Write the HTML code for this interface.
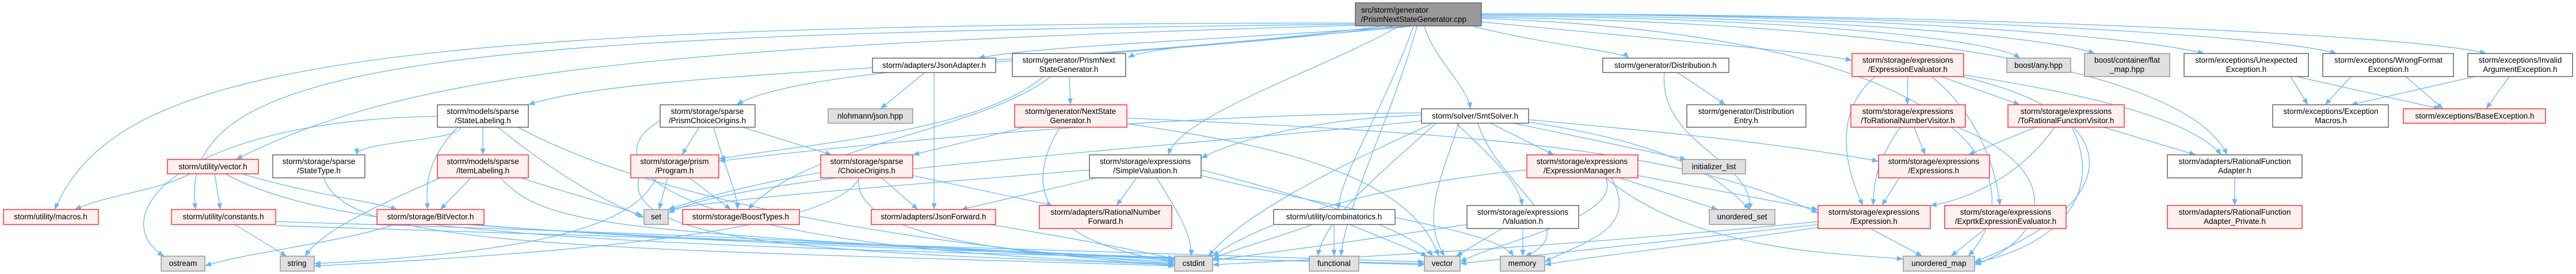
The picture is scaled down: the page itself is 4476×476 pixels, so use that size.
<!DOCTYPE html>
<html><head><meta charset="utf-8"><style>
html,body{margin:0;padding:0;background:#fff;}
svg{display:block;}
text{font-family:"Liberation Sans",sans-serif;font-size:13.5px;fill:#000;}
.e{fill:none;stroke:#63b8ff;stroke-width:1.3;marker-end:url(#a);}
.w{fill:#fff;stroke:#666;stroke-width:1.5;}
.r{fill:#fff0f0;stroke:#f33;stroke-width:1.5;}
.g{fill:#e0e0e0;stroke:#999;stroke-width:1.5;}
.k{fill:#999;stroke:#666;stroke-width:1.5;}
</style></head><body>
<svg width="4476" height="476" viewBox="0 0 4476 476" xmlns="http://www.w3.org/2000/svg">
<defs><marker id="a" markerUnits="userSpaceOnUse" markerWidth="11" markerHeight="9" refX="11" refY="4.5" orient="auto"><path d="M0,0 L11,4.5 L0,9 z" fill="#63b8ff"/></marker></defs>
<g>
<path class="e" d="M2355 40 C600 40 200 120 95 364"/>
<path class="e" d="M2355 42 C800 60 300 100 340 364"/>
<path class="e" d="M2355 44 C1100 80 700 130 410 277"/>
<path class="e" d="M2400 46 C1800 120 1100 120 918 182"/>
<path class="e" d="M2420 46 C2000 100 1400 110 1280 182"/>
<path class="e" d="M2440 46 C2100 70 1800 80 1700 101"/>
<path class="e" d="M2450 46 C2200 70 2000 80 1960 100"/>
<path class="e" d="M2430 46 C2300 120 2050 200 2030 269"/>
<path class="e" d="M2456 46 C2400 200 2330 300 2325 364"/>
<path class="e" d="M2462 46 C2420 200 2340 350 2330 445"/>
<path class="e" d="M2475 46 C2490 100 2550 150 2555 189"/>
<path class="e" d="M2560 46 C2700 80 2820 90 2830 101"/>
<path class="e" d="M2574 38 C2900 70 3150 90 3218 105"/>
<path class="e" d="M2574 28 C3000 28 3450 60 3510 101"/>
<path class="e" d="M2574 26 C3100 26 3550 60 3640 93"/>
<path class="e" d="M2574 24 C3200 24 3700 60 3830 93"/>
<path class="e" d="M2574 24 C3300 24 3950 60 4060 93"/>
<path class="e" d="M2574 24 C3400 24 4200 60 4320 93"/>
<path class="e" d="M2574 30 C3300 40 3800 120 3870 269"/>
<path class="e" d="M2574 32 C3400 60 3550 300 3420 445"/>
<path class="e" d="M800 221 C800 245 620 245 620 269"/>
<path class="e" d="M839 221 L839 269"/>
<path class="e" d="M795 221 C740 280 740 320 743 364"/>
<path class="e" d="M760 202 C300 210 180 380 285 445"/>
<path class="e" d="M865 221 C1000 330 1080 360 1119 378"/>
<path class="e" d="M900 221 C1100 330 1500 420 2041 458"/>
<path class="e" d="M330 302 C280 330 180 340 130 364"/>
<path class="e" d="M373 302 L383 364"/>
<path class="e" d="M420 302 C550 340 650 350 690 364"/>
<path class="e" d="M392 302 C600 420 1200 430 2475 458"/>
<path class="e" d="M563 309 C600 430 1000 430 2041 462"/>
<path class="e" d="M765 309 C650 360 560 400 530 445"/>
<path class="e" d="M818 309 L765 364"/>
<path class="e" d="M905 309 C1000 340 1080 360 1115 375"/>
<path class="e" d="M870 309 C950 400 1100 400 2041 455"/>
<path class="e" d="M408 390 L498 445"/>
<path class="e" d="M479 385 C1000 400 1500 420 2041 452"/>
<path class="e" d="M479 392 C1200 420 1900 440 2475 455"/>
<path class="e" d="M685 390 C600 420 420 440 356 462"/>
<path class="e" d="M810 390 C1200 420 1700 430 2041 450"/>
<path class="e" d="M820 390 C1300 430 2000 445 2475 460"/>
<path class="e" d="M1215 221 L1185 269"/>
<path class="e" d="M1240 221 C1255 280 1280 330 1282 364"/>
<path class="e" d="M1290 221 L1445 269"/>
<path class="e" d="M1147 210 C1050 260 1050 430 2041 458"/>
<path class="e" d="M1607 126 L1530 189"/>
<path class="e" d="M1623 126 L1623 364"/>
<path class="e" d="M1858 133 L1860 182"/>
<path class="e" d="M1813 133 C1700 230 1400 250 1249 276"/>
<path class="e" d="M1826 133 C1700 230 1400 250 1300 364"/>
<path class="e" d="M1893 295 C1600 320 1300 340 1161 364"/>
<path class="e" d="M1781 221 L1586 269"/>
<path class="e" d="M1842 221 C1780 320 1800 420 2041 455"/>
<path class="e" d="M1958 205 C2500 230 2900 250 3159 370"/>
<path class="e" d="M1958 215 C2200 250 2450 300 2500 445"/>
<path class="e" d="M1160 309 L1145 364"/>
<path class="e" d="M1198 309 L1270 364"/>
<path class="e" d="M1140 309 C1100 400 900 440 546 458"/>
<path class="e" d="M1110 309 C1080 430 1500 440 2041 460"/>
<path class="e" d="M1426 300 C1300 320 1200 350 1161 364"/>
<path class="e" d="M1532 309 L1595 364"/>
<path class="e" d="M1586 305 L1830 357"/>
<path class="e" d="M1492 309 C1480 420 1800 440 2041 462"/>
<path class="e" d="M1493 309 C1450 400 1000 440 546 462"/>
<path class="e" d="M1907 309 L1670 364"/>
<path class="e" d="M1975 309 L1940 357"/>
<path class="e" d="M2010 309 C2040 360 2070 400 2070 445"/>
<path class="e" d="M2087 295 C2300 350 2450 400 2490 445"/>
<path class="e" d="M2087 305 C2400 380 2600 400 2630 445"/>
<path class="e" d="M1720 390 C1900 420 2000 440 2041 450"/>
<path class="e" d="M2470 200 C2300 205 2150 240 2087 275"/>
<path class="e" d="M2470 196 C2000 200 1500 250 1249 280"/>
<path class="e" d="M2590 214 L2700 269"/>
<path class="e" d="M2630 214 L2930 277"/>
<path class="e" d="M2656 208 C2900 230 3100 250 3264 280"/>
<path class="e" d="M2656 212 C2900 250 2980 300 3040 364"/>
<path class="e" d="M2530 214 C2600 280 2640 320 2645 357"/>
<path class="e" d="M2535 214 C2500 320 2470 380 2510 445"/>
<path class="e" d="M2568 214 C2600 320 2760 400 2650 445"/>
<path class="e" d="M2495 214 C2400 300 2300 380 2290 445"/>
<path class="e" d="M2490 214 C2300 300 2150 380 2100 445"/>
<path class="e" d="M2470 210 C2000 260 1300 300 1161 370"/>
<path class="e" d="M2915 126 L2998 182"/>
<path class="e" d="M2892 126 C2880 250 3050 280 3040 364"/>
<path class="e" d="M3315 133 L3314 182"/>
<path class="e" d="M3373 133 L3510 182"/>
<path class="e" d="M3356 133 C3440 200 3470 300 3475 357"/>
<path class="e" d="M3258 133 C3180 200 3210 300 3237 357"/>
<path class="e" d="M3412 130 C3600 160 3800 200 3860 269"/>
<path class="e" d="M3412 134 C3700 200 3700 350 3431 455"/>
<path class="e" d="M3326 221 L3345 269"/>
<path class="e" d="M3302 221 C3260 280 3255 320 3255 357"/>
<path class="e" d="M3401 221 C3600 300 3550 420 3431 460"/>
<path class="e" d="M3537 221 L3420 269"/>
<path class="e" d="M3570 221 C3500 320 3400 350 3354 357"/>
<path class="e" d="M3600 221 C3650 320 3600 420 3431 457"/>
<path class="e" d="M3655 221 L3815 269"/>
<path class="e" d="M3300 309 L3270 357"/>
<path class="e" d="M2814 309 L2985 364"/>
<path class="e" d="M2846 305 L3159 364"/>
<path class="e" d="M2790 309 C2820 380 2600 420 2537 455"/>
<path class="e" d="M2800 309 C2850 400 2750 420 2684 455"/>
<path class="e" d="M2790 309 C2950 440 3200 440 3307 450"/>
<path class="e" d="M2653 295 C2400 320 2200 380 2107 445"/>
<path class="e" d="M2318 390 L2318 445"/>
<path class="e" d="M2345 390 L2480 445"/>
<path class="e" d="M2280 390 C2200 420 2150 430 2107 450"/>
<path class="e" d="M2610 397 L2530 445"/>
<path class="e" d="M2646 397 L2646 445"/>
<path class="e" d="M2549 390 C2350 420 2200 440 2107 452"/>
<path class="e" d="M3159 390 C2900 420 2700 440 2537 458"/>
<path class="e" d="M3159 395 C3000 420 2800 440 2684 460"/>
<path class="e" d="M3159 385 C2800 420 2500 440 2107 460"/>
<path class="e" d="M3250 397 L3340 445"/>
<path class="e" d="M3450 397 L3390 445"/>
<path class="e" d="M3980 133 L4010 182"/>
<path class="e" d="M3990 133 L4240 189"/>
<path class="e" d="M4085 133 L4040 182"/>
<path class="e" d="M4180 133 L4245 189"/>
<path class="e" d="M4300 133 L4085 182"/>
<path class="e" d="M4360 133 L4320 189"/>
<path class="e" d="M3883 309 L3883 357"/>
</g>
<g text-anchor="middle">
<rect class="k" x="2355" y="5" width="219" height="40"/>
<text x="2365" y="22" text-anchor="start">src/storm/generator</text><text x="2365" y="38" text-anchor="start">/PrismNextStateGenerator.cpp</text>

<rect class="w" x="760" y="182" width="158" height="39"/><text x="839" y="198">storm/models/sparse</text><text x="839" y="214">/StateLabeling.h</text>
<rect class="r" x="291" y="277" width="158" height="25"/><text x="370" y="294">storm/utility/vector.h</text>
<rect class="w" x="474" y="269" width="160" height="40"/><text x="554" y="285">storm/storage/sparse</text><text x="554" y="301">/StateType.h</text>
<rect class="r" x="760" y="269" width="158" height="40"/><text x="839" y="285">storm/models/sparse</text><text x="839" y="301">/ItemLabeling.h</text>
<rect class="r" x="6" y="364" width="165" height="26"/><text x="88" y="381">storm/utility/macros.h</text>
<rect class="r" x="298" y="364" width="181" height="26"/><text x="388" y="381">storm/utility/constants.h</text>
<rect class="r" x="655" y="364" width="186" height="26"/><text x="748" y="381">storm/storage/BitVector.h</text>
<rect class="g" x="280" y="445" width="76" height="26"/><text x="318" y="462">ostream</text>
<rect class="g" x="487" y="445" width="59" height="26"/><text x="516" y="462">string</text>

<rect class="w" x="1516" y="101" width="214" height="25"/><text x="1623" y="118">storm/adapters/JsonAdapter.h</text>
<rect class="w" x="1759" y="93" width="197" height="40"/><text x="1857" y="109">storm/generator/PrismNext</text><text x="1857" y="125">StateGenerator.h</text>
<rect class="w" x="1147" y="182" width="165" height="39"/><text x="1229" y="198">storm/storage/sparse</text><text x="1229" y="214">/PrismChoiceOrigins.h</text>
<rect class="g" x="1439" y="189" width="147" height="25"/><text x="1512" y="206">nlohmann/json.hpp</text>
<rect class="r" x="1763" y="182" width="195" height="39"/><text x="1860" y="198">storm/generator/NextState</text><text x="1860" y="214">Generator.h</text>
<rect class="r" x="1096" y="269" width="153" height="40"/><text x="1172" y="285">storm/storage/prism</text><text x="1172" y="301">/Program.h</text>
<rect class="r" x="1426" y="269" width="160" height="40"/><text x="1506" y="285">storm/storage/sparse</text><text x="1506" y="301">/ChoiceOrigins.h</text>
<rect class="w" x="1893" y="269" width="194" height="40"/><text x="1990" y="285">storm/storage/expressions</text><text x="1990" y="301">/SimpleValuation.h</text>
<rect class="g" x="1119" y="364" width="42" height="26"/><text x="1140" y="381">set</text>
<rect class="r" x="1186" y="364" width="203" height="26"/><text x="1287" y="381">storm/storage/BoostTypes.h</text>
<rect class="r" x="1514" y="364" width="216" height="26"/><text x="1622" y="381">storm/adapters/JsonForward.h</text>
<rect class="r" x="1806" y="357" width="230" height="40"/><text x="1921" y="373">storm/adapters/RationalNumber</text><text x="1921" y="389">Forward.h</text>
<rect class="g" x="2041" y="445" width="66" height="26"/><text x="2074" y="462">cstdint</text>

<rect class="w" x="2470" y="189" width="186" height="25"/><text x="2563" y="206">storm/solver/SmtSolver.h</text>
<rect class="w" x="2785" y="101" width="219" height="25"/><text x="2894" y="118">storm/generator/Distribution.h</text>
<rect class="w" x="2931" y="182" width="207" height="39"/><text x="3034" y="198">storm/generator/Distribution</text><text x="3034" y="214">Entry.h</text>
<rect class="r" x="3218" y="93" width="194" height="40"/><text x="3315" y="109">storm/storage/expressions</text><text x="3315" y="125">/ExpressionEvaluator.h</text>
<rect class="r" x="3216" y="182" width="199" height="39"/><text x="3315" y="198">storm/storage/expressions</text><text x="3315" y="214">/ToRationalNumberVisitor.h</text>
<rect class="r" x="2653" y="269" width="193" height="40"/><text x="2749" y="285">storm/storage/expressions</text><text x="2749" y="301">/ExpressionManager.h</text>
<rect class="g" x="2923" y="277" width="110" height="25"/><text x="2978" y="294">initializer_list</text>
<rect class="r" x="3264" y="269" width="193" height="40"/><text x="3360" y="285">storm/storage/expressions</text><text x="3360" y="301">/Expressions.h</text>
<rect class="w" x="2213" y="364" width="211" height="26"/><text x="2318" y="381">storm/utility/combinatorics.h</text>
<rect class="w" x="2549" y="357" width="194" height="40"/><text x="2646" y="373">storm/storage/expressions</text><text x="2646" y="389">/Valuation.h</text>
<rect class="g" x="2970" y="364" width="114" height="26"/><text x="3027" y="381">unordered_set</text>
<rect class="r" x="3159" y="357" width="195" height="40"/><text x="3256" y="373">storm/storage/expressions</text><text x="3256" y="389">/Expression.h</text>
<rect class="g" x="2275" y="445" width="86" height="26"/><text x="2318" y="462">functional</text>
<rect class="g" x="2475" y="445" width="62" height="26"/><text x="2506" y="462">vector</text>
<rect class="g" x="2607" y="445" width="77" height="26"/><text x="2645" y="462">memory</text>
<rect class="g" x="3307" y="445" width="124" height="26"/><text x="3369" y="462">unordered_map</text>

<rect class="g" x="3487" y="101" width="111" height="25"/><text x="3542" y="118">boost/any.hpp</text>
<rect class="g" x="3622" y="93" width="148" height="40"/><text x="3696" y="109">boost/container/flat</text><text x="3696" y="125">_map.hpp</text>
<rect class="w" x="3795" y="93" width="216" height="40"/><text x="3903" y="109">storm/exceptions/Unexpected</text><text x="3903" y="125">Exception.h</text>
<rect class="w" x="4036" y="93" width="227" height="40"/><text x="4150" y="109">storm/exceptions/WrongFormat</text><text x="4150" y="125">Exception.h</text>
<rect class="w" x="4288" y="93" width="182" height="40"/><text x="4379" y="109">storm/exceptions/Invalid</text><text x="4379" y="125">ArgumentException.h</text>
<rect class="r" x="3489" y="182" width="202" height="39"/><text x="3590" y="198">storm/storage/expressions</text><text x="3590" y="214">/ToRationalFunctionVisitor.h</text>
<rect class="w" x="3949" y="182" width="201" height="39"/><text x="4050" y="198">storm/exceptions/Exception</text><text x="4050" y="214">Macros.h</text>
<rect class="r" x="4176" y="189" width="247" height="25"/><text x="4300" y="206">storm/exceptions/BaseException.h</text>
<rect class="w" x="3766" y="269" width="234" height="40"/><text x="3883" y="285">storm/adapters/RationalFunction</text><text x="3883" y="301">Adapter.h</text>
<rect class="r" x="3379" y="357" width="211" height="40"/><text x="3485" y="373">storm/storage/expressions</text><text x="3485" y="389">/ExprtkExpressionEvaluator.h</text>
<rect class="r" x="3766" y="357" width="234" height="40"/><text x="3883" y="373">storm/adapters/RationalFunction</text><text x="3883" y="389">Adapter_Private.h</text>
</g>
</svg>
</body></html>
